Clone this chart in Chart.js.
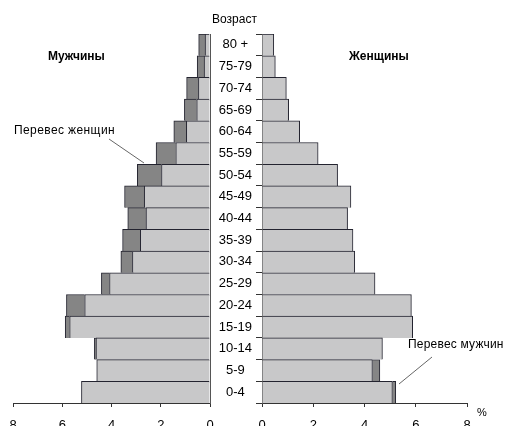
<!DOCTYPE html>
<html>
<head>
<meta charset="utf-8">
<script src="https://cdn.jsdelivr.net/npm/chart.js@4.4.1/dist/chart.umd.min.js"></script>
<style>
  html, body { margin: 0; padding: 0; background: #fff; overflow: hidden; }
  #wrap { position: relative; width: 506px; height: 426px; overflow: hidden; font-family: 'Liberation Sans', Arial, sans-serif; }
  canvas { position: absolute; top: 0; }
  .lbl { position: absolute; font-size: 12px; line-height: normal; color: #000; white-space: nowrap; }
  .b { font-weight: bold; }
  svg { position: absolute; left: 0; top: 0; }
</style>
</head>
<body>
<div id="wrap">
  <canvas id="menChart" width="216" height="440" style="left:0px"></canvas>
  <canvas id="womenChart" width="296" height="440" style="left:210px"></canvas>
  <svg width="506" height="426">
    <line x1="109" y1="139" x2="144" y2="163" stroke="#666" stroke-width="1"/>
    <line x1="432" y1="357" x2="399" y2="384" stroke="#666" stroke-width="1"/>
  </svg>
  <div class="lbl" style="left:212px; top:12px;">Возраст</div>
  <div class="lbl b" style="left:48px; top:49px;">Мужчины</div>
  <div class="lbl b" style="left:349px; top:49px;">Женщины</div>
  <div class="lbl" style="left:14px; top:123px; letter-spacing:0.4px;">Перевес женщин</div>
  <div class="lbl" style="left:408px; top:337px; letter-spacing:0.2px;">Перевес мужчин</div>
  <div class="lbl" style="left:477px; top:406px; font-size:11px;">%</div>
</div>
<script>
// age groups, top row first
const ages = ['80 +', '75-79', '70-74', '65-69', '60-64', '55-59', '50-54', '45-49', '40-44',
              '35-39', '30-34', '25-29', '20-24', '15-19', '10-14', '5-9', '0-4'];
// share of population, %
const male   = [0.2, 0.24, 0.47, 0.54, 0.96, 1.39, 1.97, 2.67, 2.6, 2.83, 3.15, 4.08, 5.09, 5.7, 4.63, 4.6, 5.22];
const female = [0.46, 0.52, 0.95, 1.04, 1.47, 2.19, 2.95, 3.47, 3.34, 3.55, 3.62, 4.41, 5.83, 5.88, 4.7, 4.31, 5.09];
const axisTicks = [0, 2, 4, 6, 8];

// excess of one sex over the other (dark part of the bar)
const womenExcess = female.map((f, i) => f > male[i] ? +(f - male[i]).toFixed(2) : null);
const menExcess = male.map((m, i) => m > female[i] ? +(m - female[i]).toFixed(2) : null);

const lightFill = '#c8c8c9';
const darkFill = '#858585';
const edge = '#23232f';
const tickFont = { family: "'Liberation Sans', Arial, sans-serif", size: 13 };

function barSet(label, data, color) {
  return {
    label: label,
    data: data,
    backgroundColor: color,
    borderColor: edge,
    borderWidth: { top: 1, right: 1, left: 1, bottom: 0 },
    barPercentage: 1,
    categoryPercentage: 1
  };
}

function xAxis(reverse) {
  return {
    type: 'linear',
    stacked: true,
    reverse: reverse,
    min: 0,
    max: 8,
    afterBuildTicks: s => { s.ticks = axisTicks.map(v => ({ value: v })); },
    afterFit: s => { s.height = 37; },
    ticks: { color: '#000', font: tickFont, padding: 11, maxRotation: 0 },
    grid: { drawOnChartArea: false, drawTicks: true, tickLength: 4, color: '#333' },
    border: { display: true, color: '#333', width: 1 }
  };
}

Chart.defaults.animation = false;

// men, left half (axis runs right to left)
new Chart(document.getElementById('menChart'), {
  type: 'bar',
  data: {
    labels: ages,
    datasets: [barSet('Мужчины', male, lightFill), barSet('Перевес женщин', womenExcess, darkFill)]
  },
  options: {
    indexAxis: 'y',
    responsive: false,
    devicePixelRatio: 1,
    layout: { padding: { top: 34, left: 13, right: 6, bottom: 0 } },
    plugins: { legend: { display: false }, tooltip: { enabled: false } },
    scales: {
      x: xAxis(true),
      y: {
        stacked: true,
        position: 'right',
        afterFit: s => { s.width = 0; },
        ticks: { display: false },
        grid: { drawOnChartArea: false, drawTicks: false },
        border: { display: true, color: '#555', width: 1 }
      }
    }
  }
});

// women, right half, age labels sit on its y axis
new Chart(document.getElementById('womenChart'), {
  type: 'bar',
  data: {
    labels: ages,
    datasets: [barSet('Женщины', female, lightFill), barSet('Перевес мужчин', menExcess, darkFill)]
  },
  options: {
    indexAxis: 'y',
    responsive: false,
    devicePixelRatio: 1,
    layout: { padding: { top: 34, left: 0, right: 39, bottom: 0 } },
    plugins: { legend: { display: false }, tooltip: { enabled: false } },
    scales: {
      x: xAxis(false),
      y: {
        stacked: true,
        position: 'left',
        afterFit: s => { s.width = 52; },
        ticks: { color: '#000', font: tickFont, crossAlign: 'center', padding: 4 },
        grid: { drawOnChartArea: false, drawTicks: true, tickLength: 6, color: '#333', offset: true },
        border: { display: true, color: '#555', width: 1 }
      }
    }
  }
});
</script>
</body>
</html>
